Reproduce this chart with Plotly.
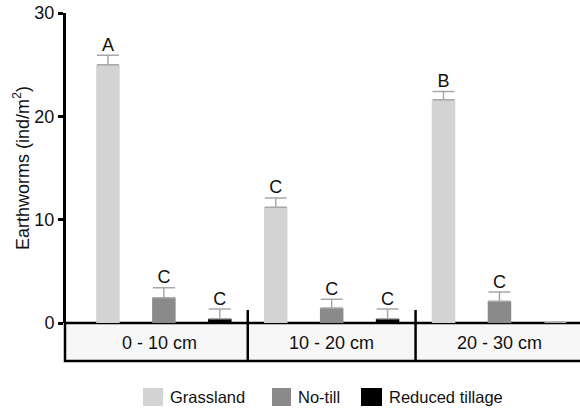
import plotly.graph_objects as go

depths = ["0 - 10 cm", "10 - 20 cm", "20 - 30 cm"]
series = ["Grassland", "No-till", "Reduced tillage"]
colors = ["#d3d3d3", "#8a8a8a", "#000000"]
grassland = [25.0, 11.2, 21.6]
grassland_err = [0.9, 0.9, 0.8]
notill = [2.45, 1.45, 2.1]
notill_err = [0.95, 0.85, 0.9]
reduced = [0.4, 0.4, 0.05]
reduced_err = [0.95, 0.95, 0.0]
letters = [["A", "C", "B"], ["C", "C", "C"], ["C", "C", ""]]

values = [grassland, notill, reduced]
errors = [grassland_err, notill_err, reduced_err]

W, H = 580, 414
L, R, T, B = 66, 0, 13, 91
pw, ph = W - L - R, H - T - B
XMIN, XMAX = -0.75, 8.44


def px_x(px):
    return (px - L) / pw


def px_y(py):
    return (H - B - py) / ph


def xdata(gi, si):
    return gi * 3 + si


font = "Arial, Liberation Sans, sans-serif"
fig = go.Figure()

for si, name in enumerate(series):
    xs = [xdata(gi, si) for gi in range(len(depths))]
    errs = errors[si]
    fig.add_trace(go.Bar(
        x=xs, y=values[si], name=name, width=0.42,
        marker=dict(color=colors[si], line=dict(width=0)),
        error_y=dict(type="data", array=errs, symmetric=False,
                     arrayminus=[0] * len(errs), visible=True,
                     color="#a8a8a8", thickness=1.5, width=11),
        showlegend=False,
    ))
    lx, ly, lt = [], [], []
    for x, v, e, t in zip(xs, values[si], errs, letters[si]):
        if t:
            lx.append(x)
            ly.append(v + e)
            lt.append(t)
    fig.add_trace(go.Scatter(
        x=lx, y=ly, mode="text", text=lt,
        textposition="top center",
        textfont=dict(family=font, size=18, color="#111"),
        showlegend=False, hoverinfo="skip",
    ))

shapes = []
annotations = []
# bottom band
shapes.append(dict(type="rect", xref="paper", yref="paper",
                   x0=px_x(65), x1=px_x(590), y0=px_y(361), y1=0,
                   fillcolor="#f7f7f7", line=dict(color="black", width=2.5),
                   layer="below"))
for gi, d in enumerate(depths):
    annotations.append(dict(
        x=xdata(gi, 1) if gi > 0 else (XMIN + 2.5) / 2 + 0.05, xref="x",
        y=px_y(343), yref="paper", yanchor="middle", text=d, showarrow=False,
        font=dict(family=font, size=18, color="#111"),
    ))
for gi in range(1, len(depths)):
    xd = xdata(gi, 0) - 0.5
    shapes.append(dict(type="line", xref="x", yref="paper",
                       x0=xd, x1=xd, y0=px_y(310), y1=px_y(361),
                       line=dict(color="black", width=2.5)))

# legend
leg_items = [(143, 163), (272, 291), (361, 382)]
for (x0, x1), name, c in zip(leg_items, series, colors):
    shapes.append(dict(type="rect", xref="paper", yref="paper",
                       x0=px_x(x0), x1=px_x(x1), y0=px_y(406), y1=px_y(388),
                       fillcolor=c, line=dict(width=0)))
    annotations.append(dict(
        x=px_x(x1 + 5), y=px_y(397), xref="paper", yref="paper",
        xanchor="left", yanchor="middle", text=name, showarrow=False,
        font=dict(family=font, size=16.5, color="#111"),
    ))

fig.update_layout(
    width=W, height=H,
    margin=dict(l=L, r=R, t=T, b=B, pad=0, autoexpand=False),
    plot_bgcolor="white", paper_bgcolor="white",
    barmode="overlay",
    shapes=shapes, annotations=annotations,
    xaxis=dict(range=[XMIN, XMAX], showticklabels=False, showgrid=False,
               zeroline=False, showline=False, ticks="", automargin=False),
    yaxis=dict(range=[0, 30], tickvals=[0, 10, 20, 30], showgrid=False,
               zeroline=False, showline=True, linecolor="black", linewidth=3,
               ticks="outside", ticklen=5, tickwidth=3, tickcolor="black",
               automargin=False,
               tickfont=dict(family=font, size=18, color="#111"),
               title=dict(text="Earthworms (ind/m<sup>2</sup>)",
                          font=dict(family=font, size=18, color="#111"),
                          standoff=1)),
    font=dict(family=font),
)

fig.write_html("out.html", config={"displayModeBar": False},
               post_script="document.body.style.margin='0';")
